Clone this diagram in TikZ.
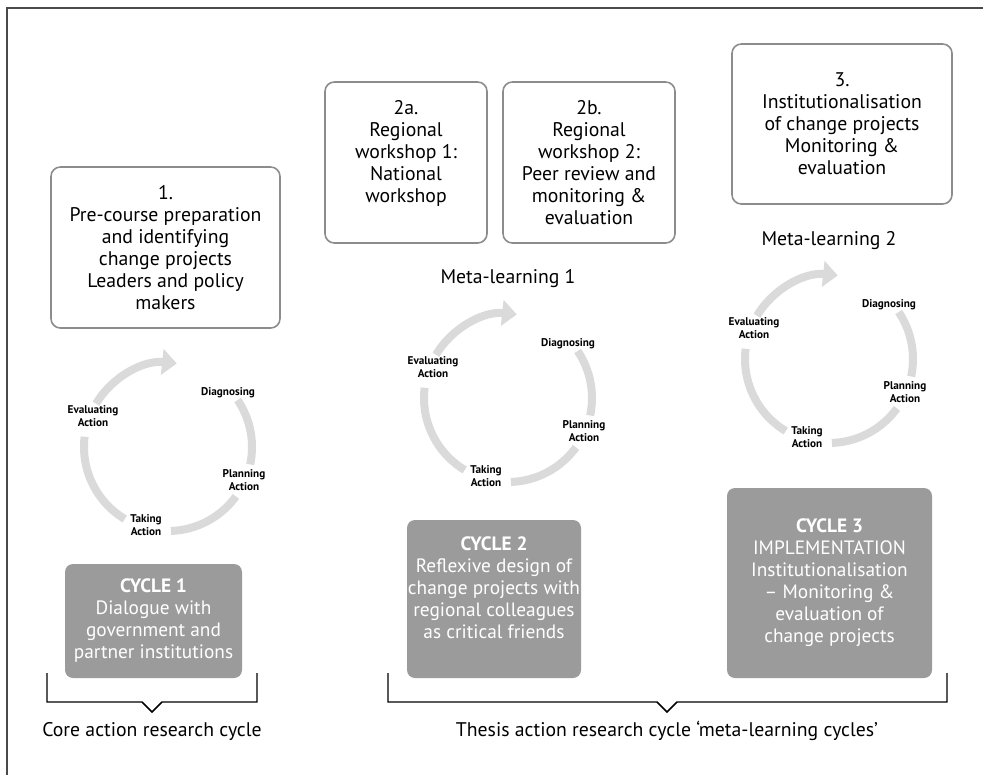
\documentclass[tikz,border=0pt]{standalone}
\usepackage{fontspec}
\setmainfont{PT Sans}
\usetikzlibrary{arrows.meta}
\definecolor{ringgray}{HTML}{DADADA}
\definecolor{boxline}{HTML}{8C8C8C}
\definecolor{boxfill}{HTML}{9B9B9B}
\definecolor{framecol}{HTML}{4A4A4A}
\begin{document}
\begin{tikzpicture}[x=0.75pt,y=-0.75pt,
  wbox/.style={draw=boxline, line width=1.2pt, rounded corners=7pt, fill=white, align=center, inner sep=0pt, font=\fontsize{14.8pt}{16.5pt}\selectfont},
  gbox/.style={fill=boxfill, rounded corners=6pt, align=center, inner sep=0pt, text=white, font=\fontsize{14.5pt}{16.5pt}\selectfont},
  ring/.style={draw=ringgray, line width=6pt},
  cyclab/.style={align=center, inner sep=0pt, font=\fontsize{8.4pt}{9.4pt}\selectfont\bfseries},
  plain/.style={inner sep=0pt, font=\fontsize{14.8pt}{16.5pt}\selectfont},
  bracket/.style={draw=black, line width=1.1pt},
  frame/.style={draw=framecol, line width=1.1pt},
  arcycle/.pic={
    \draw[ring,-{Triangle[length=11pt,width=19pt]}] (149:63pt) arc[start angle=149,end angle=84,radius=63pt];
    \draw[ring] (34:63pt) arc[start angle=34,end angle=-12,radius=63pt];
    \draw[ring] (-36:63pt) arc[start angle=-36,end angle=-88,radius=63pt];
    \draw[ring] (-121:63pt) arc[start angle=-121,end angle=-187,radius=63pt];
    \node[cyclab] (-diag) at (60,-54) {Diagnosing};
    \node[cyclab] (-plan) at (76,33) {Planning\\Action};
    \node[cyclab] (-take) at (-22,78) {Taking\\Action};
    \node[cyclab] (-eval) at (-75,-31) {Evaluating\\Action};
  }
]
\useasboundingbox (0,0) rectangle (983,775);
\clip (0,0) rectangle (983,775);
\draw[frame] (7,800) -- (7,8) -- (1000,8);

% top boxes
\node[wbox, minimum width=171.75pt, minimum height=120.75pt] (b1) at (165.5,247.5)
  {1.\\Pre-course preparation\\and identifying\\change projects\\Leaders and policy\\makers};
\node[wbox, minimum width=121.5pt, minimum height=120.75pt] (b2a) at (406,162.5)
  {2a.\\Regional\\workshop 1:\\National\\workshop\\\mbox{}};
\node[wbox, minimum width=129pt, minimum height=120.75pt] (b2b) at (589,162.5)
  {2b.\\Regional\\workshop 2:\\Peer review and\\monitoring \&\\evaluation};
\node[wbox, minimum width=165pt, minimum height=120pt] (b3) at (842,124)
  {3.\\Institutionalisation\\of change projects\\Monitoring \&\\evaluation};

\node[plain] (ml1) at (508,279) {Meta-learning 1};
\node[plain] (ml2) at (829,241) {Meta-learning 2};

% cycles
\pic (c1) at (168,447) {arcycle};
\pic (c2) at (508,398) {arcycle};
\pic (c3) at (829,359) {arcycle};

% grey boxes
\node[gbox, minimum width=132.75pt, minimum height=85.5pt] (g1) at (153.5,621)
  {\textbf{CYCLE 1}\\Dialogue with\\government and\\partner institutions};
\node[gbox, minimum width=130.5pt, minimum height=118.5pt] (g2) at (494,599)
  {\textbf{CYCLE 2}\\Reflexive design of\\change projects with\\regional colleagues\\as critical friends\\\mbox{}};
\node[gbox, minimum width=153.75pt, minimum height=142.5pt] (g3) at (829.5,583)
  {\textbf{CYCLE 3}\\IMPLEMENTATION\\Institutionalisation\\– Monitoring \&\\evaluation of\\change projects};

% brackets
\draw[bracket] (47,673) -- (47,702) -- (142,702) -- (152,712) -- (162,702) -- (257,702) -- (257,673);
\draw[bracket] (388,673) -- (388,702) -- (657,702) -- (667,712) -- (677,702) -- (947,702) -- (947,673);
\node[plain] (core) at (152,731) {Core action research cycle};
\node[plain] (thesis) at (667,731) {Thesis action research cycle ‘meta-learning cycles’};
\end{tikzpicture}
\end{document}
